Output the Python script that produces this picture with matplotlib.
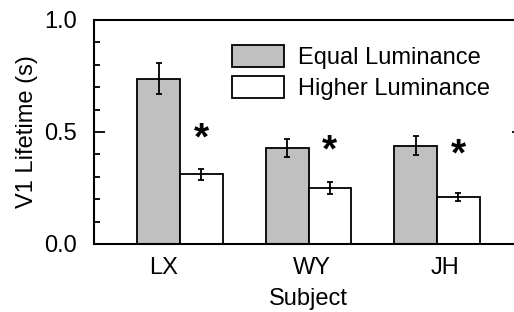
import numpy as np
import matplotlib
matplotlib.use("Agg")
import matplotlib.pyplot as plt
from matplotlib.ticker import MultipleLocator

plt.rcParams["font.family"] = ["Liberation Sans", "DejaVu Sans"]

subjects = ["LX", "WY", "JH"]
equal_lum = [0.738, 0.427, 0.439]
equal_err = [0.068, 0.040, 0.043]
higher_lum = [0.311, 0.250, 0.210]
higher_err = [0.024, 0.025, 0.019]
star_y = [0.465, 0.413, 0.393]
label_shift = [-0.13, 0.03, 0.06]

fig = plt.figure(figsize=(5.14, 3.12), dpi=100)
ax = fig.add_axes([94 / 514, 68 / 312, (523 - 94) / 514, 224 / 312])

x = np.arange(len(subjects))
w = 0.333
err_kw = dict(ecolor="black", elinewidth=1.3, capsize=2.5, capthick=1.3)
ax.bar(x - w / 2, equal_lum, w, yerr=equal_err, color="#c0c0c0",
       edgecolor="black", linewidth=1.3, label="Equal Luminance", error_kw=err_kw)
ax.bar(x + w / 2, higher_lum, w, yerr=higher_err, color="white",
       edgecolor="black", linewidth=1.3, label="Higher Luminance", error_kw=err_kw)

for xi, sy in zip(x, star_y):
    ax.text(xi + w / 2, sy, "*", ha="center", va="center", fontsize=28,
            fontweight="bold")

ax.set_xlim(-0.67, 2.67)
ax.set_ylim(0, 1.0)
ax.set_xticks(x + np.array(label_shift))
ax.set_xticklabels(subjects)
ax.yaxis.set_major_locator(MultipleLocator(0.5))
ax.yaxis.set_minor_locator(MultipleLocator(0.1))
ax.tick_params(axis="x", length=0, pad=9, labelsize=17)
ax.tick_params(axis="y", which="major", direction="in", length=8, width=1.3,
               labelsize=17, pad=12, right=True)
ax.tick_params(axis="y", which="minor", direction="in", length=4.5, width=1.3,
               right=True)
for sp in ax.spines.values():
    sp.set_linewidth(1.5)

ax.set_ylabel("V1 Lifetime (s)", fontsize=17, labelpad=5)
ax.set_xlabel("Subject", fontsize=17, labelpad=7)

ax.legend(loc="upper left", bbox_to_anchor=(0.299, 0.93), frameon=False,
          fontsize=17, handlelength=2.2, handleheight=1.05, handletextpad=0.6,
          labelspacing=0.3, borderaxespad=0)

fig.savefig("out.png", dpi=100)
